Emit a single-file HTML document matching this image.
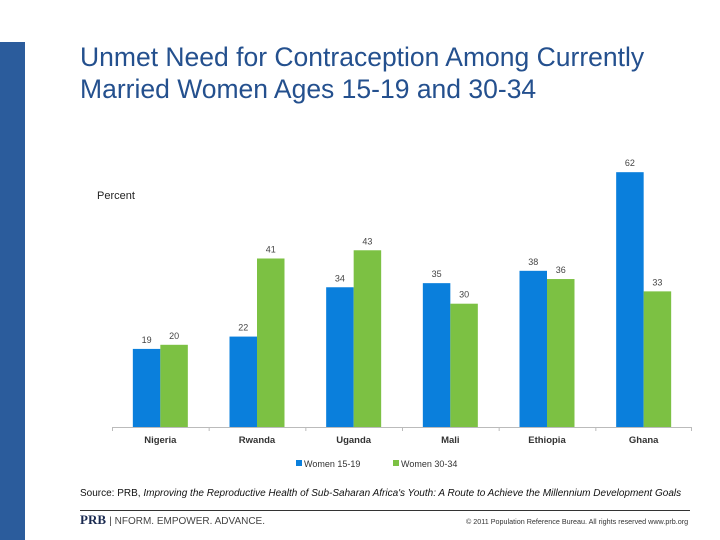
<!DOCTYPE html>
<html><head><meta charset="utf-8"><style>
body{margin:0;width:720px;height:540px;background:#fff;position:relative;overflow:hidden;font-family:"Liberation Sans",sans-serif}
.abs{position:absolute}
</style></head><body>
<div class="abs" style="left:0;top:42px;width:25px;height:498px;background:#2b5c9c"></div>
<div class="abs" style="left:80px;top:41px;font-size:26.5px;line-height:32px;color:#24508e;white-space:nowrap">Unmet Need for Contraception Among Currently<br>Married Women Ages 15-19 and 30-34</div>
<svg class="abs" style="left:0;top:0" width="720" height="540">
<text x="97" y="199" font-size="11" fill="#222">Percent</text>
<g id="bars"></g>
<line x1="112" y1="427.5" x2="692" y2="427.5" stroke="#bbb"/>
<rect x="296" y="460" width="6" height="6" fill="#0a7fdc"/>
<text x="304" y="467" font-size="9" fill="#333">Women 15-19</text>
<rect x="393" y="460" width="6" height="6" fill="#7cc143"/>
<text x="401" y="467" font-size="9" fill="#333">Women 30-34</text>
</svg>
<div class="abs" style="left:80px;top:488px;font-size:10px;color:#111;white-space:nowrap">Source: PRB, <i>Improving the Reproductive Health of Sub-Saharan Africa's Youth: A Route to Achieve the Millennium Development Goals</i></div>
<div class="abs" style="left:80px;top:510px;width:610px;height:1px;background:#333"></div>
<div class="abs" style="left:80px;top:512px;font-family:'Liberation Serif',serif;font-weight:bold;font-size:13px;color:#1a2a50">PRB <span style="font-family:'Liberation Sans',sans-serif;font-weight:normal;font-size:10px;color:#444">| NFORM. EMPOWER. ADVANCE.</span></div>
<div class="abs" style="left:466px;top:517px;font-size:7.2px;color:#333;white-space:nowrap">© 2011 Population Reference Bureau. All rights reserved www.prb.org</div>
<script>
const categories=["Nigeria","Rwanda","Uganda","Mali","Ethiopia","Ghana"];
const women1519=[19,22,34,35,38,62];
const women3034=[20,41,43,30,36,33];
const g=document.getElementById('bars');
const NS='http://www.w3.org/2000/svg';
const x0=112,x1=692,base=427,scale=4.11,bw=27.5;
const band=(x1-x0)/categories.length;
function yv(v){return base-v*scale;}
function add(tag,attrs,txt){const e=document.createElementNS(NS,tag);for(const k in attrs)e.setAttribute(k,attrs[k]);if(txt!=null)e.textContent=txt;g.appendChild(e);return e;}
categories.forEach((c,i)=>{
 const cx=x0+band*(i+0.5);
 const t=add('line',{x1:x0+band*i+0.5,x2:x0+band*i+0.5,y1:base,y2:base+4,stroke:'#bbb'});
 
 
 [[women1519,'#0a7fdc',cx-bw,'15-19'],[women3034,'#7cc143',cx,'30-34']].forEach(s=>{
  const v=s[0][i];
  const r=add('rect',{x:s[2],y:yv(v),width:bw,height:v*scale,fill:s[1]});
  
  
  const l=add('text',{x:s[2]+bw/2,y:yv(v)-6,'font-size':9,'text-anchor':'middle',fill:'#444'},v);
  
  
 });
 const cl=add('text',{x:cx,y:443,'font-size':9.5,'font-weight':'bold','text-anchor':'middle',fill:'#333'},c);
 
 
});
const lt=add('line',{x1:x1-0.5,x2:x1-0.5,y1:base,y2:base+4,stroke:'#bbb'});


</script>
</body></html>
